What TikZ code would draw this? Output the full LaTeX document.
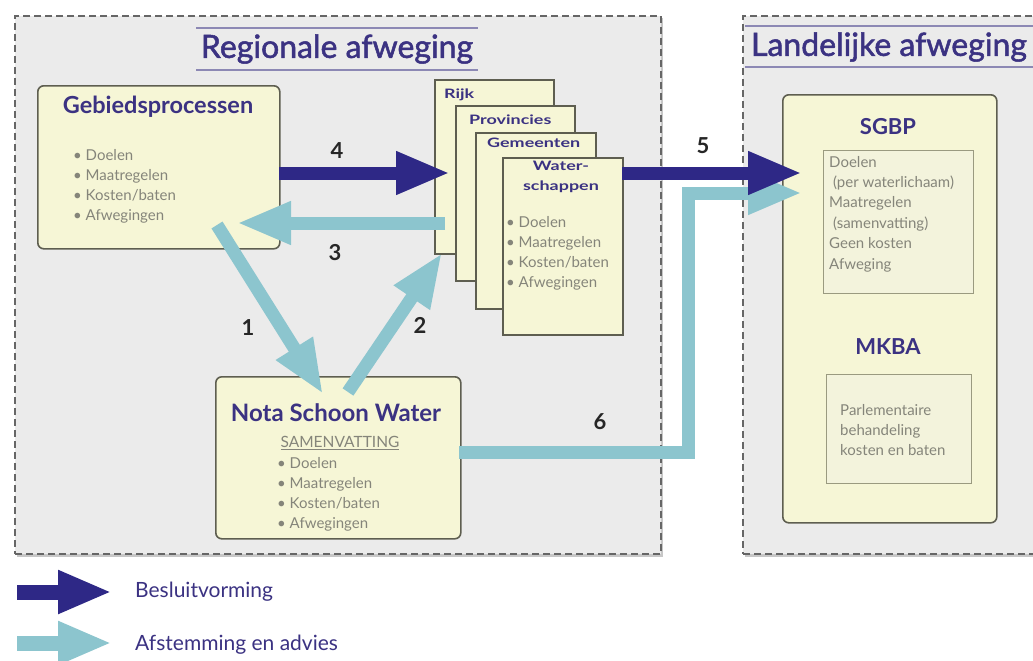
\documentclass[tikz,border=0pt]{standalone}
\usepackage{fontspec}
\usepackage{graphicx}
\setmainfont{Lato}
\newfontfamily\medfont{Lato}[FakeBold=1.6]
\usetikzlibrary{arrows.meta,calc}
\definecolor{dkblue}{HTML}{2E2886}
\definecolor{ltblue}{HTML}{8CC5CE}
\definecolor{ttl}{HTML}{3B3282}
\definecolor{yfill}{HTML}{F6F6D6}
\definecolor{yinner}{HTML}{F3F3DC}
\definecolor{yborder}{HTML}{5E5E50}
\definecolor{iborder}{HTML}{9A9A80}
\definecolor{regfill}{HTML}{EBEBEB}
\definecolor{graytxt}{HTML}{85857A}
\definecolor{ttlline}{HTML}{8C88B4}
\tikzset{
  region/.style={draw=black!60, line width=2pt, dash pattern=on 7pt off 4pt, fill=regfill},
  ybox/.style={draw=yborder, line width=1.6pt, fill=yfill, rounded corners=6pt, inner sep=0pt},
  pagebox/.style={draw=yborder, line width=1.6pt, fill=yfill, inner sep=0pt},
  ibox/.style={draw=iborder, line width=1.2pt, fill=yinner, inner sep=0pt},
  bigttl/.style={text=ttl, font=\medfont\fontsize{32}{36}\selectfont, inner sep=0pt},
  boxttl/.style={text=ttl, font=\bfseries\fontsize{22}{24}\selectfont, inner sep=0pt},
  pglbl/.style={text=ttl, font=\bfseries\fontsize{13}{20}\selectfont, inner sep=0pt},
  bul/.style={text=graytxt, font=\fontsize{15}{20}\selectfont, align=left, inner sep=0pt, anchor=west},
  num/.style={text=black!85, font=\bfseries\fontsize{22}{24}\selectfont, inner sep=0pt},
  legtxt/.style={text=ttl, font=\fontsize{21}{24}\selectfont, inner sep=0pt, anchor=west},
  darr/.style={draw=dkblue, line width=13pt, -{Triangle[length=54pt,width=40pt]}},
  larr/.style={draw=ltblue, line width=13pt, line join=miter, -{Triangle[length=54pt,width=40pt]}},
}
\newcommand{\wide}[1]{\scalebox{1.38}[1]{#1}}
\begin{document}
\begin{tikzpicture}[x=1pt,y=-1pt]
\useasboundingbox (0,0) rectangle (1033,661);
\clip (0,0) rectangle (1033,661);
\fill[white] (0,0) rectangle (1033,661);

% region boxes with soft shadow
\fill[black!22] (17,18) rectangle (663,557);
\fill[black!22] (745,18) rectangle (1050,557);
\node[region, anchor=north west, minimum width=646pt, minimum height=538pt] (reg) at (14,15) {};
\node[region, anchor=north west, minimum width=310pt, minimum height=538pt] (lan) at (742,15) {};

% titles
\draw[ttlline, line width=1.5pt] (196,28) -- (478,28) (196,70) -- (478,70);
\node[bigttl] (regt) at (337,49) {Regionale afweging};
\draw[ttlline, line width=1.5pt] (745,26) -- (1033,26) (745,67) -- (1033,67);
\node[bigttl] (lant) at (889,47) {Landelijke afweging};

% Gebiedsprocessen
\node[ybox, anchor=north west, minimum width=242pt, minimum height=163pt] (geb) at (37,85) {};
\node[boxttl, font=\bfseries\fontsize{23.5}{26}\selectfont] (gebt) at (158,107) {Gebiedsprocessen};
\node[bul] (gebb) at (73,186) {• Doelen\\• Maatregelen\\• Kosten/baten\\• Afwegingen};

% stacked pages
\node[pagebox, anchor=north west, minimum width=119pt, minimum height=174pt] (rijk) at (434,79) {};
\node[pglbl, anchor=west] (rijkt) at (444,95) {\wide{Rijk}};
\node[pagebox, anchor=north west, minimum width=119pt, minimum height=175pt] (prov) at (455,105) {};
\node[pglbl, anchor=west] (provt) at (469,120) {\wide{Provincies}};
\node[pagebox, anchor=north west, minimum width=120pt, minimum height=176pt] (gem) at (475,132) {};
\node[pglbl, anchor=west] (gemt) at (487,143) {\wide{Gemeenten}};
\node[pagebox, anchor=north west, minimum width=120pt, minimum height=177pt] (ws) at (502,157) {};
\node[pglbl] (wst1) at (561,166) {\wide{Water-}};
\node[pglbl] (wst2) at (561,187) {\wide{schappen}};
\node[bul] (wsb) at (506,253) {• Doelen\\• Maatregelen\\• Kosten/baten\\• Afwegingen};

% Nota Schoon Water
\node[ybox, anchor=north west, minimum width=245pt, minimum height=162pt] (nota) at (215,376) {};
\node[boxttl, font=\bfseries\fontsize{24}{26}\selectfont] (notat) at (336,413) {Nota Schoon Water};
\node[text=graytxt, font=\fontsize{15.5}{18}\selectfont, inner sep=0pt] (sam) at (340,443) {\underline{SAMENVATTING}};
\node[bul] (notab) at (277,494) {• Doelen\\• Maatregelen\\• Kosten/baten\\• Afwegingen};

% Landelijke content
\node[ybox, anchor=north west, minimum width=214pt, minimum height=428pt] (sg) at (782,94) {};
\node[boxttl] (sgt) at (888,127) {SGBP};
\node[ibox, anchor=north west, minimum width=150pt, minimum height=143pt] (sgi) at (823,150) {};
\node[bul, font=\fontsize{15}{20.4}\selectfont] (sgb) at (829,214) {Doelen\\\ (per waterlichaam)\\Maatregelen\\\ (samenvatting)\\Geen kosten\\Afweging};
\node[boxttl] (mkt) at (888,347) {MKBA};
\node[ibox, anchor=north west, minimum width=145pt, minimum height=109pt] (mki) at (826,374) {};
\node[bul, font=\fontsize{15}{20}\selectfont] (mkb) at (840,430) {Parlementaire\\behandeling\\kosten en baten};

% connector coordinates
\coordinate (a4s) at (279,173);
\coordinate (a4e) at (450,173);
\coordinate (a3s) at (445,223);
\coordinate (a3e) at (237,223);
\coordinate (a1s) at (217,225);
\coordinate (a1e) at (323,394);
\coordinate (a2s) at (348,392);
\coordinate (a2e) at (442,253);
\coordinate (a5s) at (622,173);
\coordinate (a5e) at (802,173);
\coordinate (a6s) at (459,452);
\coordinate (a6k1) at (688,452);
\coordinate (a6k2) at (688,193);
\coordinate (a6e) at (802,193);

% connectors
\draw[darr] (a4s) -- (a4e);
\draw[larr] (a3s) -- (a3e);
\draw[larr] (a1s) -- (a1e);
\draw[larr] (a2s) -- (a2e);
\draw[larr] (a6s) -- (a6k1) -- (a6k2) -- (a6e);
\draw[darr] (a5s) -- (a5e);

% numbers
\node[num] (n4) at (337,151) {4};
\node[num] (n3) at (335,253) {3};
\node[num] (n1) at (248,328) {1};
\node[num] (n2) at (420,325) {2};
\node[num] (n5) at (703,146) {5};
\node[num] (n6) at (600,422) {6};

% legend
\coordinate (l1s) at (17,592);
\coordinate (l1e) at (112,592);
\coordinate (l2s) at (17,643);
\coordinate (l2e) at (112,643);
\draw[darr, line width=15pt] (l1s) -- (l1e);
\draw[larr, line width=15pt] (l2s) -- (l2e);
\node[legtxt] (lg1) at (135,592) {Besluitvorming};
\node[legtxt] (lg2) at (135,645) {Afstemming en advies};
\end{tikzpicture}
\end{document}
